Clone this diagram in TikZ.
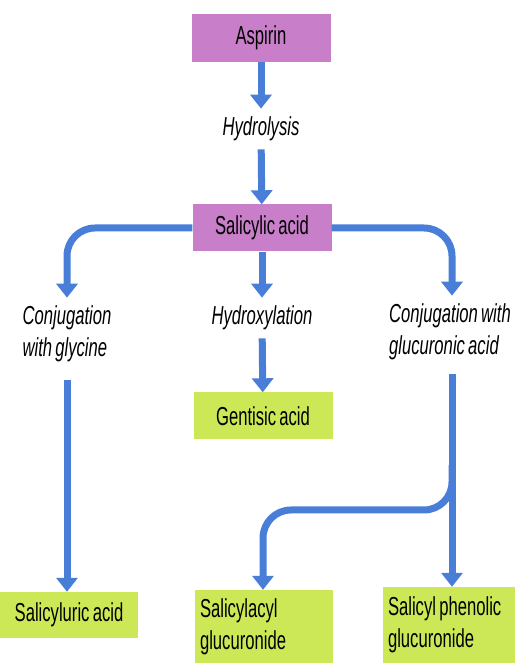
\documentclass[tikz,border=0pt]{standalone}
\usepackage{fontspec}
\setmainfont[FakeStretch=0.64, WordSpace=0.7]{Liberation Sans}
\usetikzlibrary{arrows.meta,positioning}

\definecolor{drugpurple}{RGB}{200,126,200}
\definecolor{metabgreen}{RGB}{204,232,86}
\definecolor{flowblue}{RGB}{72,126,216}

\tikzset{
  drugbox/.style={fill=drugpurple, minimum width=139pt, minimum height=48pt,
    font=\fontsize{26}{32}\selectfont},
  metabox/.style={fill=metabgreen, minimum width=139pt, minimum height=47pt,
    font=\fontsize{26}{32}\selectfont},
  steplabel/.style={font=\fontsize{26}{32}\selectfont\itshape, align=left, inner sep=8pt},
  flow/.style={draw=flowblue, line width=7pt, rounded corners=28pt,
    -{Triangle[width=21pt,length=14pt]}}
}

\begin{document}
\begin{tikzpicture}[x=1pt,y=1pt]
  \useasboundingbox (0,0) rectangle (515,663);

  % Drugs
  \node[drugbox] (aspirin) at (261,625) {Aspirin};
  \node[steplabel] (hydrolysis) at (261,534) {Hydrolysis};
  \node[drugbox, minimum height=47pt] (salicylic) at (262,435) {Salicylic acid};

  % Reaction steps
  \node[steplabel] (conjglycine) at (67,329) {Conjugation\\with glycine};
  \node[steplabel] (hydroxylation) at (262,345) {Hydroxylation};
  \node[steplabel] (conjgluc) at (450,331) {Conjugation with\\glucuronic acid};

  % Metabolites
  \node[metabox] (gentisic) at (263,247) {Gentisic acid};
  \node[metabox, minimum width=138pt, minimum height=46pt] (saluric) at (69,48) {Salicyluric acid};
  \node[metabox, minimum width=138pt, minimum height=73pt, text width=128pt, align=flush left,
    inner sep=5pt] (salacyl) at (264,36.5) {Salicylacyl\\glucuronide};
  \node[metabox, minimum width=132pt, minimum height=76pt, text width=122pt, align=flush left,
    inner sep=5pt] (salphen) at (449,38) {Salicyl phenolic\\glucuronide};

  \coordinate (split) at (452,198);
  \coordinate (branch) at (263,153);

  % Flow arrows
  \draw[flow] (aspirin) -- (hydrolysis);
  \draw[flow] (hydrolysis) -- (salicylic);
  \draw[flow] (salicylic.west) -| (conjglycine.north);
  \draw[flow] (salicylic) -- (hydroxylation);
  \draw[flow] (salicylic.east) -| (conjgluc.north -| split);
  \draw[flow] (hydroxylation) -- (gentisic);
  \draw[flow, shorten <=10pt] (conjglycine.south) -- (conjglycine.south |- saluric.north);
  \draw[flow, shorten <=6pt] (conjgluc.south -| split) -- (salphen.north -| split);
  \draw[flow] (split) |- (branch) -- (salacyl.north -| branch);
\end{tikzpicture}
\end{document}
